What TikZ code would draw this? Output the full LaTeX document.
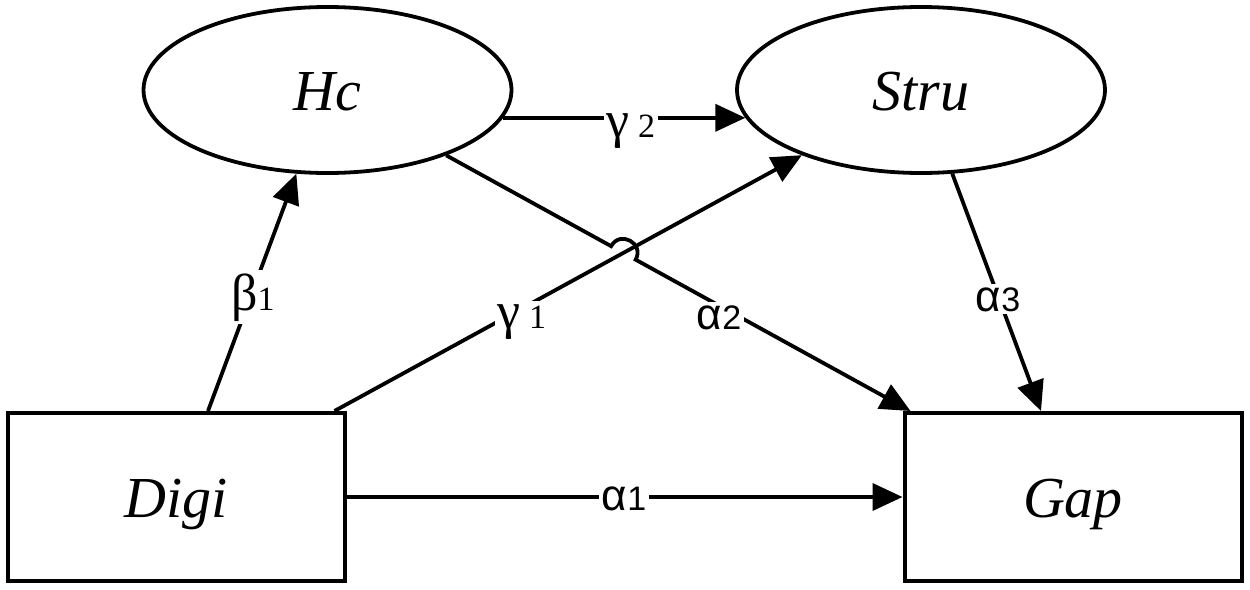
\documentclass[tikz,border=0pt]{standalone}
\usepackage{fontspec}
\setmainfont{Liberation Serif}
\newfontfamily\lblsans{Liberation Sans}
\usetikzlibrary{shapes.geometric,arrows.meta,calc}
\begin{document}
\begin{tikzpicture}[x=1pt,y=1pt,
  nodefont/.style={font=\fontsize{58}{62}\selectfont\itshape, text height=40pt, text depth=0pt},
  box/.style={draw, line width=4pt, rectangle, minimum width=337pt, minimum height=168pt, inner sep=0pt, nodefont},
  oval/.style={draw, line width=3.8pt, ellipse, minimum width=368pt, minimum height=166pt, inner sep=0pt, nodefont},
  arr/.style={line width=3.8pt, -{Triangle[length=30pt,width=27pt]}},
  serlbl/.style={fill=white, inner sep=3pt, anchor=base, font=\rmfamily},
  sanlbl/.style={fill=white, inner sep=3pt, anchor=base, font=\lblsans},
]
\path[use as bounding box] (0,0) rectangle (1250,-589);

\node[box] (digi) at (176,-497) {Digi};
\node[box] (gap) at (1073,-497) {Gap};
\node[oval] (hc) at (327.5,-90) {Hc};
\node[oval] (stru) at (921,-90) {Stru};

% helper coordinates
\coordinate (aS) at (hc.center);
\coordinate (aE) at ([xshift=8pt]gap.north west);
\coordinate (bS) at ([xshift=-12pt]digi.north east);
\coordinate (bE) at (stru.center);
\coordinate (X) at (intersection of aS--aE and bS--bE);
\coordinate (h1) at ($(X)!14pt!(aS)$);
\coordinate (h2) at ($(X)!14pt!(aE)$);

% connectors
\draw[arr] ([xshift=32pt]digi.north) -- (hc);
\draw[arr] (bS) -- (stru);
\draw[arr] (hc) -- (h1) to[bend left=90, looseness=1.7] (h2) -- (aE);
\draw[arr] (stru) -- ([xshift=-32pt]gap.north);
\draw[arr] (hc.-9.2) -- (stru.189.2);
\draw[arr] (digi) -- (gap);

% labels
\node[serlbl] (lb1) at (253,-310) {{\fontsize{52}{54}\selectfont β}{\fontsize{34}{36}\selectfont 1}};
\node[serlbl] (lg1) at (522,-328) {{\fontsize{52}{54}\selectfont γ}{\fontsize{34}{36}\selectfont\ 1}};
\node[serlbl] (lg2) at (631,-137) {{\fontsize{52}{54}\selectfont γ}{\fontsize{34}{36}\selectfont\ 2}};
\node[sanlbl] (la1) at (624,-510) {{\fontsize{44}{46}\selectfont α}{\fontsize{34}{36}\selectfont 1}};
\node[sanlbl] (la2) at (719,-329) {{\fontsize{44}{46}\selectfont α}{\fontsize{34}{36}\selectfont 2}};
\node[sanlbl] (la3) at (998,-311) {{\fontsize{44}{46}\selectfont α}{\fontsize{34}{36}\selectfont 3}};
\end{tikzpicture}
\end{document}
